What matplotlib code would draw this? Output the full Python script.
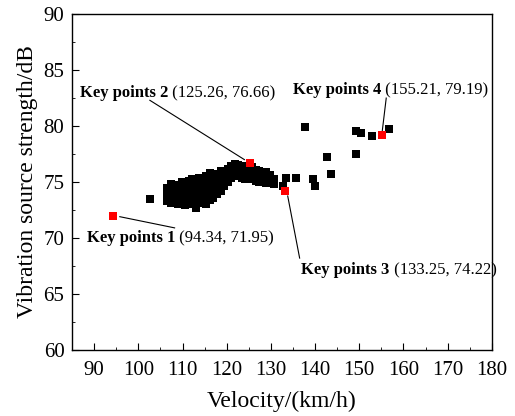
import matplotlib.pyplot as plt
from matplotlib.ticker import MultipleLocator

# measured points: velocity (km/h) vs vibration source strength (dB)
velocity = [
    102.6,
    106.5, 106.5, 106.5,
    107.3, 107.3, 107.3, 107.3,
    108.2, 108.2, 108.2,
    109.0, 109.0, 109.0, 109.0,
    109.8, 109.8, 109.8, 109.8,
    110.6, 110.6, 110.6, 110.6,
    111.4, 111.4, 111.4, 111.4,
    112.2, 112.2, 112.2, 112.2, 112.2,
    113.0, 113.0, 113.0, 113.0, 113.0,
    113.8, 113.8, 113.8, 113.8, 113.8,
    114.6, 114.6, 114.6, 114.6,
    115.4, 115.4, 115.4, 115.4, 115.4,
    116.2, 116.2, 116.2, 116.2, 116.2,
    117.0, 117.0, 117.0, 117.0,
    117.8, 117.8, 117.8, 117.8,
    118.6, 118.6, 118.6, 118.6,
    119.4, 119.4, 119.4,
    120.2, 120.2, 120.2,
    121.0, 121.0, 121.0,
    121.8, 121.8, 121.8,
    122.6, 122.6, 122.6,
    123.4, 123.4, 123.4,
    124.2, 124.2, 124.2,
    125.0, 125.0,
    125.8, 125.8, 125.8,
    126.6, 126.6, 126.6,
    127.4, 127.4, 127.4,
    128.2, 128.2,
    129.0, 129.0, 129.0,
    129.8, 129.8,
    130.6, 130.6,
    132.7, 133.5, 135.6, 137.8, 139.5, 139.9,
    142.8, 143.5, 149.3, 149.3, 150.5, 152.9, 156.8,
]
strength = [
    73.5,
    73.3, 73.9, 74.5,
    73.1, 73.7, 74.3, 74.8,
    73.4, 74.0, 74.6,
    73.0, 73.6, 74.2, 74.7,
    73.3, 73.9, 74.5, 75.0,
    72.9, 73.5, 74.1, 74.8,
    73.2, 73.8, 74.4, 75.1,
    73.0, 73.6, 74.3, 74.9, 75.3,
    72.7, 73.4, 74.0, 74.6, 75.1,
    73.1, 73.7, 74.3, 75.0, 75.4,
    73.3, 73.9, 74.5, 75.2,
    73.0, 73.6, 74.2, 74.8, 75.5,
    73.4, 74.0, 74.7, 75.3, 75.8,
    73.6, 74.3, 74.9, 75.5,
    73.9, 74.5, 75.1, 75.7,
    74.2, 74.8, 75.4, 76.0,
    74.6, 75.2, 75.8,
    75.0, 75.6, 76.2,
    75.4, 75.9, 76.4,
    75.6, 76.1, 76.6,
    75.5, 76.0, 76.5,
    75.4, 75.9, 76.4,
    75.3, 75.8, 76.3,
    75.5, 76.0,
    75.3, 75.8, 76.3,
    75.1, 75.6, 76.1,
    75.0, 75.5, 76.0,
    75.2, 75.7,
    74.9, 75.4, 75.9,
    75.1, 75.6,
    74.8, 75.3,
    74.6, 75.4, 75.4, 79.9, 75.3, 74.6,
    77.2, 75.7, 79.6, 77.5, 79.4, 79.1, 79.7,
]

# highlighted key points
key_labels = ["Key points 1", "Key points 2", "Key points 3", "Key points 4"]
key_velocity = [94.34, 125.26, 133.25, 155.21]
key_strength = [71.95, 76.66, 74.22, 79.19]

# label anchor (text left/centre) and leader line end near the text
text_pos = [(88.3, 70.0), (86.8, 82.95), (136.9, 67.1), (134.9, 83.2)]
line_start = [(108.2, 70.9), (102.6, 82.3), (136.5, 68.2), (156.1, 82.5)]
line_end = [(95.8, 71.9), (124.0, 77.0), (133.8, 73.75), (155.2, 79.55)]

plt.rcParams["font.family"] = "Liberation Serif"

fig = plt.figure(figsize=(5.15, 4.16), dpi=100)
ax = fig.add_axes([0.140, 0.159, 0.815, 0.807])

ax.scatter(velocity, strength, marker="s", s=30, color="black", linewidths=0, zorder=3)
ax.scatter(key_velocity, key_strength, marker="s", s=30, color="red", linewidths=0, zorder=4)

for i in range(len(key_labels)):
    t = ax.text(text_pos[i][0], text_pos[i][1], key_labels[i],
                fontsize=12, fontweight="bold", ha="left", va="center")
    ax.annotate(" (%.2f, %.2f)" % (key_velocity[i], key_strength[i]),
                xy=(1, 0.5), xycoords=t, fontsize=12, ha="left", va="center",
                annotation_clip=False)
    ax.plot([line_start[i][0], line_end[i][0]], [line_start[i][1], line_end[i][1]],
            color="black", linewidth=0.8, zorder=2)

ax.set_xlim(85, 180)
ax.set_ylim(60, 90)
ax.xaxis.set_major_locator(MultipleLocator(10))
ax.xaxis.set_minor_locator(MultipleLocator(5))
ax.yaxis.set_major_locator(MultipleLocator(5))
ax.yaxis.set_minor_locator(MultipleLocator(2.5))
ax.tick_params(which="both", direction="in", top=False, right=False, labelsize=15)
ax.tick_params(which="major", length=5)
ax.tick_params(which="minor", length=2.5)
ax.tick_params(axis="x", which="both", pad=8)
ax.tick_params(axis="y", which="both", pad=5.5)
for sp in ax.spines.values():
    sp.set_linewidth(1.0)

ax.set_xlabel("Velocity/(km/h)", fontsize=17, labelpad=8)
ax.set_ylabel("Vibration source strength/dB", fontsize=17)

fig.savefig("out.png", dpi=100)
